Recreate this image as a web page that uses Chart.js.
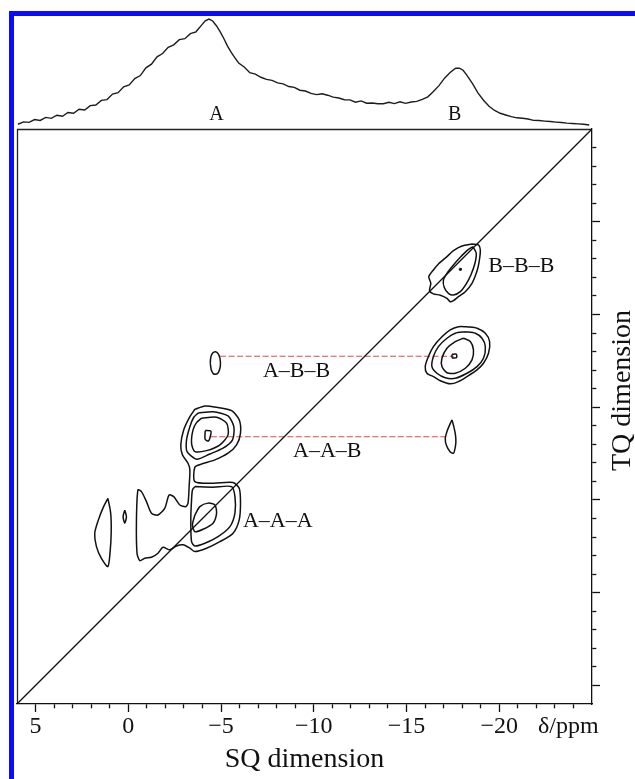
<!DOCTYPE html>
<html>
<head>
<meta charset="utf-8">
<script src="https://cdn.jsdelivr.net/npm/chart.js@4/dist/chart.umd.min.js"></script>
<style>
  html, body { margin: 0; padding: 0; background: #fff; }
  #wrap { position: relative; width: 635px; height: 779px; overflow: hidden; background: #fff; }
  #frame { position: absolute; left: 9px; top: 11px; width: 700px; height: 800px;
           border-left: 5px solid #0b0bff; border-top: 5px solid #0b0bff; }
  #c { position: absolute; left: 0; top: 0; }
</style>
</head>
<body>
<div id="wrap">
  <div id="frame"></div>
  <canvas id="c" width="635" height="779"></canvas>
</div>
<script>
// ---- 1D projection (SQ shift in ppm, relative intensity) ----
const specPpm = [5.95, 5.65, 5.35, 5.05, 4.75, 4.45, 4.15, 3.85, 3.55, 3.25, 2.95, 2.65, 2.35, 2.05, 1.75, 1.45,
  1.15, 0.85, 0.55, 0.25, -0.05, -0.35, -0.65, -0.95, -1.25, -1.55, -1.85, -2.15, -2.45, -2.75, -3.05, -3.35,
  -3.65, -3.95, -4.15, -4.35, -4.55, -4.75, -4.95, -5.15, -5.35, -5.55, -5.75, -5.95, -6.25, -6.55, -6.85,
  -7.15, -7.45, -7.75, -8.05, -8.35, -8.65, -8.95, -9.25, -9.55, -9.85, -10.15, -10.45, -10.75, -11.05,
  -11.35, -11.65, -11.95, -12.25, -12.55, -12.85, -13.15, -13.45, -13.75, -14.05, -14.35, -14.65, -14.95,
  -15.25, -15.55, -15.85, -16.15, -16.45, -16.75, -17.05, -17.35, -17.65, -17.85, -18.05, -18.25, -18.55,
  -18.85, -19.15, -19.45, -19.75, -20.05, -20.35, -20.65, -20.95, -21.25, -21.55, -21.85, -22.15, -22.45,
  -22.75, -23.05, -23.35, -23.65, -23.95, -24.25, -24.55, -24.85];
const specInt = [4.2, 6.3, 5.9, 8.4, 7.6, 10.3, 9.4, 12.2, 11.3, 14.6, 13.9, 17.5, 16.8, 20.7, 21.2, 25.3,
  26.0, 30.9, 32.1, 37.4, 39.0, 44.6, 47.3, 54.1, 57.4, 63.9, 66.8, 72.3, 74.5, 79.1, 79.9, 84.4,
  86.0, 91.9, 95.8, 97.3, 95.6, 91.4, 86.2, 80.1, 73.4, 67.8, 62.9, 58.4, 54.9, 49.8, 48.5,
  45.8, 43.9, 43.0, 40.8, 39.9, 37.6, 36.9, 34.3, 33.6, 31.5, 30.4, 31.2, 29.9, 28.2,
  27.4, 25.9, 25.8, 23.7, 24.9, 22.8, 23.0, 22.4, 22.3, 23.6, 22.5, 24.1, 22.7,
  23.9, 24.4, 26.2, 28.5, 33.2, 38.4, 45.0, 50.0, 53.8, 53.9, 52.0, 47.7, 40.3,
  32.0, 25.5, 20.1, 16.4, 13.9, 12.4, 10.9, 9.9, 9.5, 8.8, 7.6, 7.5, 7.0,
  6.6, 6.1, 5.7, 5.2, 4.9, 4.5, 4.2, 3.5];
const specLabels = ['A', 'B'];
const specLabelPpm = [-4.75, -17.6];

// ---- 2D SQ/TQ correlation map: contour outlines as [SQ ppm, TQ ppm] ----
const bbbOuter = [[-18.53,-18.80],[-18.88,-18.75],[-18.98,-18.48],[-18.90,-17.76],[-18.76,-17.22],[-18.53,-16.68],
  [-18.17,-16.23],[-17.80,-15.96],[-17.53,-15.75],[-17.36,-15.69],[-17.18,-15.87],[-16.82,-16.04],[-16.45,-16.11],
  [-16.24,-16.28],[-16.31,-16.68],[-16.20,-17.04],[-16.45,-17.40],[-16.72,-17.72],[-17.18,-18.12],[-17.53,-18.44],
  [-17.99,-18.69]];
const bbbInner = [[-18.58,-18.66],[-18.76,-18.30],[-18.69,-17.76],[-18.47,-17.13],[-18.22,-16.65],[-17.90,-16.23],
  [-17.53,-16.05],[-17.26,-16.14],[-17.03,-16.47],[-16.99,-16.86],[-17.18,-17.22],[-17.53,-17.67],[-17.90,-18.08],
  [-18.26,-18.44]];
const bbbTop = [[-17.86,-17.48],[-17.95,-17.47],[-17.94,-17.40],[-17.86,-17.41]];

const abbOuter = [[-18.26,-14.34],[-18.80,-14.26],[-19.25,-13.99],[-19.48,-13.54],[-19.42,-12.91],[-19.15,-12.37],
  [-18.80,-12.01],[-18.26,-11.65],[-17.80,-11.38],[-17.36,-11.26],[-16.82,-11.43],[-16.45,-11.65],[-16.10,-11.83],
  [-16.01,-12.19],[-16.18,-12.73],[-16.45,-13.27],[-16.91,-13.80],[-17.36,-14.17],[-17.80,-14.34]];
const abbMid = [[-18.17,-14.07],[-18.71,-13.99],[-19.07,-13.72],[-19.25,-13.27],[-19.15,-12.64],[-18.80,-12.19],
  [-18.26,-11.83],[-17.63,-11.56],[-17.09,-11.59],[-16.64,-11.83],[-16.37,-12.19],[-16.45,-12.73],[-16.72,-13.27],
  [-17.18,-13.72],[-17.63,-13.99]];
const abbInner = [[-18.07,-13.72],[-18.44,-13.54],[-18.61,-13.09],[-18.53,-12.55],[-18.17,-12.10],[-17.63,-11.83],
  [-17.18,-11.86],[-16.91,-12.19],[-16.91,-12.64],[-17.18,-13.18],[-17.63,-13.54]];
const abbTop = [[-17.45,-12.85],[-17.68,-12.86],[-17.70,-12.68],[-17.47,-12.66]];
const abbCross = [[-4.42,-12.38],[-4.47,-12.03],[-4.58,-11.81],[-4.72,-11.78],[-4.86,-11.88],[-4.96,-12.20],
  [-4.95,-12.60],[-4.85,-12.88],[-4.70,-12.99],[-4.55,-12.92],[-4.45,-12.70]];

// lowest level: A-A-B and A-A-A merged, with the ridge towards 0 ppm
const aaLow = [[-3.59,-9.89],[-4.13,-10.07],[-4.76,-10.00],[-5.57,-9.82],[-5.98,-9.32],[-6.05,-8.60],[-5.84,-7.97],
  [-5.38,-7.52],[-4.67,-7.16],[-3.95,-6.94],[-3.59,-6.77],[-3.59,-5.99],[-4.57,-5.90],[-5.65,-5.94],[-5.98,-5.63],
  [-6.05,-4.83],[-5.98,-3.93],[-5.65,-3.21],[-4.94,-2.75],[-4.22,-2.40],[-3.59,-2.22],[-3.32,-2.40],[-2.95,-2.58],
  [-2.60,-2.52],[-2.24,-2.31],[-1.87,-2.45],[-1.60,-2.13],[-1.25,-1.91],[-0.89,-1.86],[-0.62,-1.73],[-0.47,-2.13],
  [-0.44,-3.93],[-0.52,-5.54],[-0.71,-5.45],[-0.98,-4.91],[-1.25,-4.29],[-1.60,-4.19],[-1.97,-4.56],[-2.20,-5.27],
  [-2.45,-5.18],[-2.78,-4.73],[-3.10,-4.64],[-3.22,-4.83],[-3.28,-5.72],[-3.32,-6.62],[-3.22,-6.98],[-2.92,-7.43],
  [-2.83,-7.97],[-2.99,-8.78],[-3.32,-9.49]];
const aabMid = [[-3.76,-9.68],[-4.57,-9.76],[-5.38,-9.53],[-5.69,-8.95],[-5.62,-8.24],[-5.11,-7.79],[-4.40,-7.48],
  [-3.68,-7.20],[-3.17,-7.61],[-3.14,-8.24],[-3.32,-8.95],[-3.53,-9.46]];
const aabInner = [[-3.95,-9.41],[-4.76,-9.46],[-5.30,-9.14],[-5.38,-8.51],[-4.94,-7.97],[-4.22,-7.66],[-3.59,-7.61],
  [-3.41,-8.06],[-3.49,-8.78],[-3.68,-9.17]];
const aabTop = [[-4.15,-8.75],[-4.45,-8.72],[-4.43,-8.45],[-4.32,-8.18],[-4.14,-8.28]];
const aabCross = [[-17.45,-9.32],[-17.55,-8.95],[-17.64,-8.50],[-17.66,-8.10],[-17.60,-7.70],[-17.53,-7.52],
  [-17.35,-7.60],[-17.15,-7.95],[-17.09,-8.33],[-17.20,-8.75],[-17.35,-9.10]];
const aaaMid = [[-3.59,-5.72],[-4.57,-5.69],[-5.57,-5.72],[-5.75,-5.18],[-5.75,-4.29],[-5.48,-3.56],[-4.84,-3.02],
  [-4.13,-2.67],[-3.59,-2.52],[-3.41,-2.75],[-3.37,-3.93],[-3.41,-5.00],[-3.46,-5.54]];
const aaaInner = [[-3.59,-4.19],[-3.86,-4.64],[-4.30,-4.83],[-4.67,-4.73],[-4.76,-4.29],[-4.57,-3.75],[-4.03,-3.42],
  [-3.59,-3.29],[-3.46,-3.66]];
const wingLens = [[1.10,-5.09],[1.35,-4.60],[1.62,-3.90],[1.81,-3.20],[1.72,-2.50],[1.45,-1.85],[1.10,-1.41],
  [0.98,-2.20],[0.92,-3.30],[0.95,-4.30]];
const wingDot = [[0.19,-4.45],[0.28,-4.10],[0.19,-3.75],[0.10,-4.10]];

const contours = [bbbOuter, bbbInner, bbbTop, abbOuter, abbMid, abbInner, abbTop, abbCross,
  aaLow, aabMid, aabInner, aabTop, aabCross, aaaMid, aaaInner, wingLens, wingDot];

// diagonal SQ = TQ and the cross-peak connectors
const diagonal = [[6, 6], [-25, -25]];
const abbLink = [[-4.95, -12.75], [-17.55, -12.75]];
const aabLink = [[-4.45, -8.41], [-17.09, -8.41]];

// cross-peak assignments (text, SQ ppm at left edge, TQ ppm)
const peakText = ['B\u2013B\u2013B', 'A\u2013B\u2013B', 'A\u2013A\u2013B', 'A\u2013A\u2013A'];
const peakAt = [[-19.41, -17.62], [-7.26, -11.96], [-8.88, -7.64], [-6.18, -3.87]];

// axis ranges and ticks
const sqRange = [-25, 6];
const tqRange = [-25, 6];
const tickStep = 1;
const labelEvery = 5;

const SERIF = "'Liberation Serif', 'Times New Roman', serif";
const fmt = v => String(v).replace('-', '\u2212');
const xy = pts => pts.map(([x, y]) => ({ x, y }));
const closed = pts => xy(pts.concat([pts[0]]));
const line = (data, extra) => Object.assign({
  data, yAxisID: 'y', showLine: true, pointRadius: 0, borderColor: '#111', borderWidth: 1.5,
  tension: 0, fill: false
}, extra || {});

const datasets = [];
datasets.push(line(specPpm.map((x, i) => ({ x, y: specInt[i] })), { yAxisID: 'ySpec', borderWidth: 1.4, borderColor: '#1c1c1c' }));
datasets.push(line(xy(diagonal), { borderWidth: 1.3 }));
contours.forEach(c => datasets.push(line(closed(c), { tension: 0.25 })));
[abbLink, aabLink].forEach(l => datasets.push(line(xy(l), {
  borderColor: 'rgba(214,60,60,0.9)', borderWidth: 1.1, borderDash: [6, 2.5]
})));

const minorDash = c => (c.tick && c.tick.value % labelEvery !== 0) ? [4, 40] : [];
const keepInside = s => { s.ticks = s.ticks.filter(t => t.value <= 5 && t.value >= -24); };

const annotate = {
  id: 'annotate',
  beforeDatasetsDraw(chart) {
    const { x, y } = chart.scales;
    const ctx = chart.ctx;
    const l = Math.round(x.getPixelForValue(sqRange[1])) + 0.5;
    const r = x.getPixelForValue(sqRange[0]);
    const t = Math.round(y.getPixelForValue(tqRange[0])) + 0.5;
    const b = y.getPixelForValue(tqRange[1]);
    ctx.save();
    ctx.strokeStyle = '#222';
    ctx.lineWidth = 1.3;
    ctx.beginPath();
    ctx.moveTo(l, b); ctx.lineTo(l, t); ctx.lineTo(r, t);
    ctx.stroke();
    ctx.restore();
  },
  afterDraw(chart) {
    const { x, y, ySpec } = chart.scales;
    const ctx = chart.ctx;
    ctx.save();
    ctx.fillStyle = '#111';
    ctx.textBaseline = 'middle';
    // assignments of the cross peaks
    ctx.font = '22px ' + SERIF;
    ctx.textAlign = 'left';
    peakText.forEach((t, i) => {
      ctx.fillText(t, x.getPixelForValue(peakAt[i][0]), y.getPixelForValue(peakAt[i][1]));
    });
    // projection peak names
    ctx.font = '20px ' + SERIF;
    ctx.textAlign = 'center';
    specLabels.forEach((t, i) => {
      ctx.fillText(t, x.getPixelForValue(specLabelPpm[i]), ySpec.getPixelForValue(13));
    });
    // unit at the end of the SQ scale
    ctx.font = '24px ' + SERIF;
    ctx.textAlign = 'left';
    ctx.fillText('\u03b4/ppm', x.right - 54, x.top + 22.5);
    // TQ axis title, reading upwards
    ctx.font = '28px ' + SERIF;
    ctx.textAlign = 'center';
    ctx.translate(y.left + 31, (y.top + y.bottom) / 2 - 26);
    ctx.rotate(-Math.PI / 2);
    ctx.fillText('TQ dimension', 0, 0);
    ctx.restore();
  }
};

new Chart(document.getElementById('c'), {
  type: 'scatter',
  data: { datasets },
  plugins: [annotate],
  options: {
    responsive: false,
    animation: false,
    devicePixelRatio: 1,
    layout: { padding: { left: 17, top: 16, right: 0, bottom: 0 } },
    plugins: { legend: { display: false }, tooltip: { enabled: false } },
    scales: {
      x: {
        type: 'linear', position: 'bottom', min: sqRange[0], max: sqRange[1], reverse: true,
        afterBuildTicks: keepInside,
        afterFit: s => { s.height = 75; },
        grid: { drawOnChartArea: false, drawTicks: true, tickLength: 8, tickColor: '#111', tickWidth: 1.3,
                tickBorderDash: minorDash },
        border: { display: true, color: '#111', width: 1.3 },
        ticks: {
          stepSize: tickStep, maxTicksLimit: 100, autoSkip: false, maxRotation: 0, minRotation: 0, padding: 0,
          color: '#111', font: { family: SERIF, size: 24 },
          callback: v => (v % labelEvery === 0 ? fmt(v) : '')
        },
        title: { display: true, text: 'SQ dimension', color: '#111', font: { family: SERIF, size: 28 },
                 padding: { top: 0, bottom: 3 } }
      },
      ySpec: {
        type: 'linear', position: 'right', min: 0, max: 100, display: false,
        stack: 'tq', stackWeight: 113, weight: 0
      },
      y: {
        type: 'linear', position: 'right', min: tqRange[0], max: tqRange[1], reverse: true,
        stack: 'tq', stackWeight: 575, weight: 1,
        afterBuildTicks: keepInside,
        afterFit: s => { s.width = 43; },
        grid: { drawOnChartArea: false, drawTicks: true, tickLength: 8, tickColor: '#111', tickWidth: 1.3,
                tickBorderDash: minorDash },
        border: { display: true, color: '#111', width: 1.3 },
        ticks: { stepSize: tickStep, maxTicksLimit: 100, autoSkip: false, display: false }
      }
    }
  }
});
</script>
</body>
</html>
